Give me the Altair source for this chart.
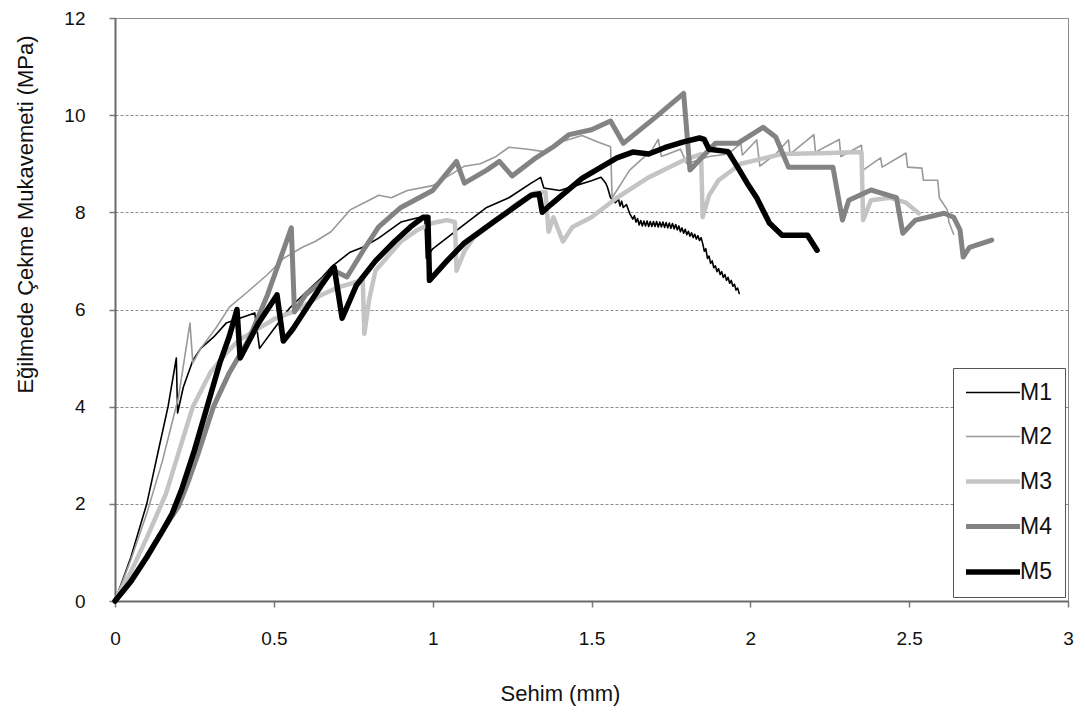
import altair as alt
import pandas as pd

series_names = ["M1", "M2", "M3", "M4", "M5"]
series_colors = ["#000000", "#999999", "#c4c4c4", "#838383", "#000000"]
series_widths = [1.6, 1.6, 4.5, 5, 5.5]

m1_x = [0, 0.05, 0.1, 0.14, 0.167, 0.193, 0.197, 0.215, 0.245, 0.27, 0.31, 0.35, 0.44, 0.455,
        0.5, 0.55, 0.6, 0.65, 0.68, 0.74, 0.78, 0.83, 0.9, 0.96, 0.975, 0.98, 1.0, 1.1, 1.17,
        1.24, 1.31, 1.34, 1.35, 1.4, 1.45, 1.5, 1.53, 1.545, 1.55, 1.56,
        1.575, 1.585, 1.59, 1.595, 1.60, 1.61, 1.62, 1.63, 1.635, 1.64, 1.645, 1.65, 1.655,
        1.66, 1.665, 1.67, 1.675, 1.68, 1.685, 1.69, 1.695, 1.70, 1.705, 1.71, 1.715, 1.72,
        1.725, 1.73, 1.735, 1.74, 1.745, 1.75, 1.755, 1.76, 1.765, 1.77, 1.775, 1.78, 1.785,
        1.79, 1.795, 1.80, 1.805, 1.81, 1.815, 1.82, 1.825, 1.83, 1.835, 1.84, 1.845, 1.85,
        1.855, 1.86, 1.865, 1.87, 1.875, 1.88, 1.885, 1.89, 1.895, 1.90, 1.905, 1.91, 1.915,
        1.92, 1.925, 1.93, 1.935, 1.94, 1.945, 1.95, 1.955, 1.96, 1.965]
m1_y = [0, 0.9, 2.0, 3.2, 4.0, 5.0, 3.87, 4.4, 4.95, 5.2, 5.43, 5.72, 5.93, 5.2,
        5.6, 6.03, 6.35, 6.65, 6.87, 7.18, 7.28, 7.47, 7.8, 7.9, 7.92, 7.05, 7.25, 7.75, 8.1,
        8.3, 8.6, 8.72, 8.5, 8.45, 8.55, 8.65, 8.72, 8.6, 8.52, 8.3,
        8.2, 8.27, 8.13, 8.23, 8.1, 8.16, 7.98, 7.86, 7.93, 7.8, 7.87, 7.74, 7.83,
        7.72, 7.82, 7.72, 7.82, 7.71, 7.81, 7.71, 7.81, 7.71, 7.81, 7.7, 7.8, 7.7,
        7.8, 7.69, 7.79, 7.68, 7.78, 7.67, 7.77, 7.66, 7.75, 7.64, 7.72, 7.6, 7.68,
        7.57, 7.65, 7.54, 7.61, 7.51, 7.58, 7.48, 7.55, 7.45, 7.52, 7.42, 7.48, 7.36,
        7.2, 7.25, 7.05, 7.1, 6.95, 7.0, 6.86, 6.9, 6.78, 6.84, 6.72, 6.78, 6.66,
        6.72, 6.6, 6.66, 6.54, 6.6, 6.48, 6.52, 6.4, 6.44, 6.33]

m2_x = [0, 0.05, 0.1, 0.15, 0.2, 0.236, 0.245, 0.27, 0.32, 0.36, 0.415, 0.48, 0.53, 0.59,
        0.63, 0.68, 0.74, 0.8, 0.83, 0.87, 0.92, 1.0, 1.05, 1.1, 1.15, 1.2, 1.24, 1.3, 1.35,
        1.39, 1.47, 1.52, 1.56, 1.565, 1.62, 1.69, 1.71, 1.72, 1.78, 1.8, 1.87, 1.93, 1.97,
        1.975, 2.02, 2.03, 2.08, 2.12, 2.125, 2.2, 2.205, 2.28, 2.285, 2.35, 2.355, 2.41,
        2.415, 2.49, 2.495, 2.54, 2.545, 2.59, 2.595, 2.62, 2.625, 2.64]
m2_y = [0, 0.85, 1.8, 2.9, 4.2, 5.72, 4.9, 5.2, 5.64, 6.05, 6.35, 6.72, 7.05, 7.28,
        7.4, 7.6, 8.05, 8.25, 8.35, 8.3, 8.45, 8.55, 8.75, 8.95, 9.0, 9.15, 9.34, 9.3, 9.25,
        9.42, 9.58, 9.45, 9.35, 8.3, 8.87, 9.28, 9.5, 9.15, 9.3, 9.0, 9.15, 9.2, 9.42,
        9.18, 9.49, 8.95, 9.2, 9.49, 9.2, 9.6, 9.24, 9.5, 9.15, 9.38, 8.87, 9.12,
        8.93, 9.22, 8.93, 8.91, 8.66, 8.66, 8.3, 8.05, 7.8, 7.55]

m3_x = [0, 0.05, 0.1, 0.13, 0.16, 0.2, 0.245, 0.3, 0.35, 0.39, 0.45, 0.5, 0.56, 0.6, 0.65,
        0.7, 0.75, 0.78, 0.785, 0.8, 0.82, 0.86, 0.9, 0.95, 1.0, 1.045, 1.07, 1.075, 1.1,
        1.13, 1.21, 1.27, 1.32, 1.355, 1.365, 1.38, 1.41, 1.44, 1.5, 1.58, 1.68, 1.79, 1.845,
        1.85, 1.87, 1.9, 1.97, 2.1, 2.25, 2.35, 2.355, 2.38, 2.44, 2.49, 2.53]
m3_y = [0, 0.6, 1.3, 1.75, 2.2, 3.05, 4.0, 4.7, 5.1, 5.37, 5.6, 5.8, 5.95, 6.1, 6.3,
        6.45, 6.55, 6.6, 5.5, 6.2, 6.8, 7.1, 7.4, 7.63, 7.78, 7.84, 7.8, 6.8, 7.2,
        7.49, 7.9, 8.2, 8.4, 8.42, 7.6, 7.9, 7.4, 7.7, 7.9, 8.3, 8.72, 9.07, 9.2,
        7.9, 8.35, 8.66, 9.0, 9.2, 9.22, 9.24, 7.84, 8.25, 8.3, 8.2, 7.98]

m4_x = [0, 0.05, 0.1, 0.15, 0.2, 0.23, 0.26, 0.31, 0.36, 0.42, 0.48, 0.555, 0.565, 0.6, 0.69,
        0.73, 0.78, 0.83, 0.9, 1.0, 1.075, 1.1, 1.17, 1.21, 1.25, 1.32, 1.38, 1.43, 1.5, 1.56,
        1.6, 1.7, 1.79, 1.81, 1.89, 1.96, 2.04, 2.08, 2.12, 2.26, 2.29, 2.31, 2.38, 2.41,
        2.46, 2.48, 2.52, 2.61, 2.64, 2.66, 2.67, 2.69, 2.76]
m4_y = [0, 0.42, 0.92, 1.45, 1.95, 2.45, 3.0, 4.0, 4.7, 5.37, 6.3, 7.68, 5.95, 6.3, 6.8,
        6.67, 7.2, 7.7, 8.1, 8.45, 9.05, 8.6, 8.87, 9.05, 8.75, 9.1, 9.35, 9.6, 9.7, 9.88,
        9.42, 9.95, 10.45, 8.87, 9.42, 9.42, 9.75, 9.55, 8.93, 8.93, 7.84, 8.25, 8.46, 8.4,
        8.3, 7.57, 7.84, 7.98, 7.9, 7.64, 7.08, 7.28, 7.43]

m5_x = [0, 0.05, 0.1, 0.15, 0.18, 0.21, 0.25, 0.29, 0.33, 0.36, 0.384, 0.394, 0.45, 0.51, 0.53,
        0.56, 0.6, 0.65, 0.69, 0.715, 0.76, 0.82, 0.88, 0.93, 0.97, 0.985, 0.99, 1.045, 1.1,
        1.2, 1.31, 1.335, 1.345, 1.37, 1.47, 1.58, 1.63, 1.68, 1.73, 1.79, 1.84, 1.855, 1.87,
        1.93, 1.96, 1.99, 2.02, 2.06, 2.1, 2.18, 2.21]
m5_y = [0, 0.4, 0.9, 1.45, 1.8, 2.3, 3.1, 4.0, 4.9, 5.45, 6.0, 5.0, 5.7, 6.3, 5.35,
        5.6, 6.0, 6.5, 6.87, 5.82, 6.5, 7.0, 7.4, 7.7, 7.9, 7.9, 6.6, 7.0, 7.37,
        7.84, 8.35, 8.38, 8.0, 8.15, 8.7, 9.12, 9.24, 9.2, 9.33, 9.45, 9.53, 9.5, 9.3,
        9.25, 8.93, 8.6, 8.3, 7.78, 7.53, 7.53, 7.22]

rows = []
for name, xs, ys in zip(series_names, [m1_x, m2_x, m3_x, m4_x, m5_x],
                        [m1_y, m2_y, m3_y, m4_y, m5_y]):
    for i, (a, b) in enumerate(zip(xs, ys)):
        rows.append({"Seri": name, "Sehim": a, "Gerilme": b, "i": i})
df = pd.DataFrame(rows)

FONT = "Liberation Sans"

chart = alt.Chart(df).mark_line(strokeJoin="round", strokeCap="round").encode(
    x=alt.X("Sehim:Q",
            scale=alt.Scale(domain=[0, 3], nice=False, zero=False),
            axis=alt.Axis(values=[0, 0.5, 1, 1.5, 2, 2.5, 3], format="~g",
                          title="Sehim (mm)", grid=False, labelFlush=False,
                          tickSize=6, labelPadding=22,
                          titleX=445, titleY=92, titleBaseline="middle")),
    y=alt.Y("Gerilme:Q",
            scale=alt.Scale(domain=[0, 12], nice=False),
            axis=alt.Axis(values=[0, 2, 4, 6, 8, 10, 12],
                          title="Eğilmede Çekme Mukavemeti (MPa)", grid=True,
                          labelFlush=False,
                          gridDash=[3, 2], gridColor="#8a8a8a", gridWidth=1,
                          tickSize=6, labelPadding=24,
                          titleX=-90, titleY=196, titleBaseline="middle",
                          titleAngle=270)),
    color=alt.Color("Seri:N",
                    scale=alt.Scale(type="ordinal", domain=series_names, range=series_colors),
                    legend=alt.Legend(title=None)),
    strokeWidth=alt.StrokeWidth("Seri:N",
                                scale=alt.Scale(type="ordinal", domain=series_names,
                                                range=series_widths),
                                legend=alt.Legend(title=None)),
    order=alt.Order("i:Q"),
).properties(
    width=953, height=583,
    autosize=alt.AutoSizeParams(type="none"),
    padding={"left": 115, "top": 18, "right": 17, "bottom": 118},
).configure_view(
    stroke="#8c8c8c", strokeWidth=1
).configure_axis(
    labelFont=FONT, titleFont=FONT, labelFontSize=19, titleFontSize=22,
    labelColor="#111111", titleColor="#111111", titleFontWeight="normal",
    domainColor="#6a6a6a", domainWidth=2, tickColor="#7a7a7a", tickWidth=1.5,
).configure_legend(
    orient="none", legendX=838, legendY=350, direction="vertical",
    strokeColor="#555555", fillColor="white", padding=13,
    labelFont=FONT, labelFontSize=23, labelColor="#111111",
    symbolType="M-2.7,0H2.7", symbolSize=400, rowPadding=20,
    labelOffset=14, symbolOffset=14,
)

chart.save("out.html", embed_options={"renderer": "svg", "actions": False})
